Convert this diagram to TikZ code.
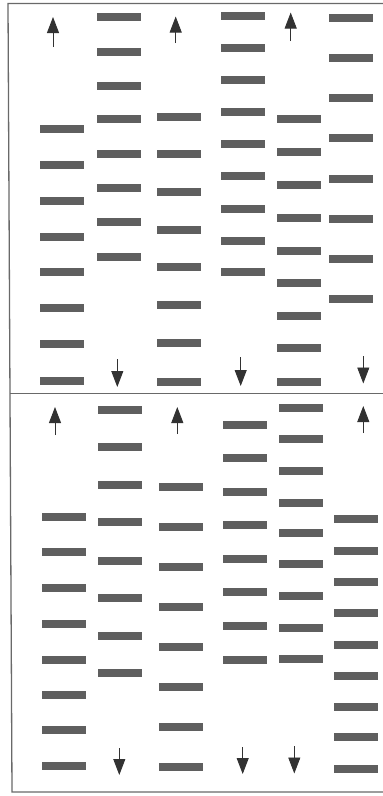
\documentclass[tikz,border=0pt]{standalone}
\usetikzlibrary{arrows.meta}
\definecolor{barcol}{RGB}{95,95,95}
\definecolor{arrcol}{RGB}{50,50,50}
\definecolor{framecol}{RGB}{105,105,105}
\begin{document}
\begin{tikzpicture}[x=1pt,y=-1pt,
  bar/.style={rectangle, fill=barcol, draw=none, minimum width=44pt, minimum height=7.5pt, inner sep=0pt},
  flow/.style={draw=arrcol, line width=0.9pt, -{Triangle[length=16pt 0,width=12pt 0]}},
  framel/.style={draw=framecol, line width=1.3pt}]
\useasboundingbox (0,0) rectangle (383,796);
% frame
\draw[framel] (383,3.5) -- (8,3.5) -- (12,792) -- (383,792);
\draw[framel] (10,393.5) -- (383,393.5);
% top panel bars
\foreach \y [count=\i] in {129,165,201,237,272,308,344,381} \node[bar] (t1-\i) at (62,\y) {};
\foreach \y [count=\i] in {17,52,86,119,154,188,222,257} \node[bar] (t2-\i) at (118.5,\y) {};
\foreach \y [count=\i] in {117,154,192,230,267,305,343,382} \node[bar] (t3-\i) at (179,\y) {};
\foreach \y [count=\i] in {16,48,80,112,144,176,209,241,272} \node[bar] (t4-\i) at (242.5,\y) {};
\foreach \y [count=\i] in {119,152,185,218,251,283,316,348,382} \node[bar] (t5-\i) at (298.5,\y) {};
\foreach \y [count=\i] in {18,58,98,138,179,219,259,299} \node[bar] (t6-\i) at (351,\y) {};
% bottom panel bars
\foreach \y [count=\i] in {517,552,588,624,660,695,730,766} \node[bar] (b1-\i) at (64,\y) {};
\foreach \y [count=\i] in {410,447,485,522,561,598,636,673} \node[bar] (b2-\i) at (120,\y) {};
\foreach \y [count=\i] in {487,527,567,607,647,687,727,767} \node[bar] (b3-\i) at (181,\y) {};
\foreach \y [count=\i] in {425,458,492,525,559,592,626,660} \node[bar] (b4-\i) at (245,\y) {};
\foreach \y [count=\i] in {408,439,471,503,533,564,596,628,659} \node[bar] (b5-\i) at (301,\y) {};
\foreach \y [count=\i] in {519,551,582,613,645,676,707,737,769} \node[bar] (b6-\i) at (356,\y) {};
% arrows top panel
\coordinate (tu1s) at (53,47);    \coordinate (tu1e) at (53,17);
\coordinate (tu2s) at (175.7,43); \coordinate (tu2e) at (175.7,16.5);
\coordinate (tu3s) at (290.7,41); \coordinate (tu3e) at (290.7,12.5);
\coordinate (td1s) at (117.3,359); \coordinate (td1e) at (117.3,387);
\coordinate (td2s) at (240.7,357); \coordinate (td2e) at (240.7,386);
\coordinate (td3s) at (363.3,356); \coordinate (td3e) at (363.3,383.5);
% arrows bottom panel
\coordinate (bu1s) at (55,435);    \coordinate (bu1e) at (55,407);
\coordinate (bu2s) at (177.3,434); \coordinate (bu2e) at (177.3,407);
\coordinate (bu3s) at (363.3,433); \coordinate (bu3e) at (363.3,406);
\coordinate (bd1s) at (119.3,748); \coordinate (bd1e) at (119.3,775);
\coordinate (bd2s) at (242.7,747); \coordinate (bd2e) at (242.7,774);
\coordinate (bd3s) at (294.3,746); \coordinate (bd3e) at (294.3,773.5);
\foreach \a in {tu1,tu2,tu3,td1,td2,td3,bu1,bu2,bu3,bd1,bd2,bd3}
  \draw[flow] (\a s) -- (\a e);
\end{tikzpicture}
\end{document}
